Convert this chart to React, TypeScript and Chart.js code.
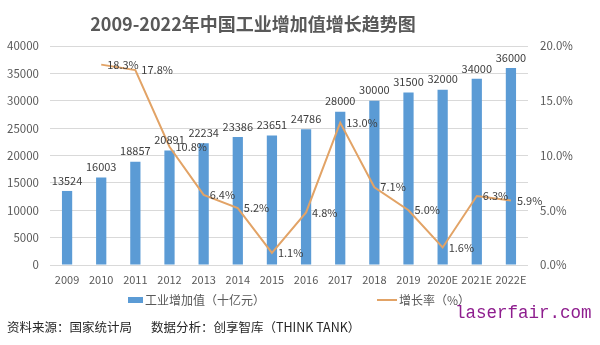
import React, { useEffect, useRef } from "react";
import { Chart, registerables } from "chart.js";

Chart.register(...registerables);

const titleText = "2009-2022年中国工业增加值增长趋势图";
const categories = ["2009", "2010", "2011", "2012", "2013", "2014", "2015", "2016", "2017", "2018", "2019", "2020E", "2021E", "2022E"];
const industryValues = [13524, 16003, 18857, 20891, 22234, 23386, 23651, 24786, 28000, 30000, 31500, 32000, 34000, 36000];
const growthRates: (number | null)[] = [null, 18.3, 17.8, 10.8, 6.4, 5.2, 1.1, 4.8, 13.0, 7.1, 5.0, 1.6, 6.3, 5.9];
const barLabel = "工业增加值（十亿元）";
const lineLabel = "增长率（%）";
const sourceText = "资料来源：国家统计局";
const analysisText = "数据分析：创享智库（THINK TANK）";
const watermark = "laserfair.com";

const BAR_COLOR = "#5B9BD5";
const LINE_COLOR = "#E2A366";
const TEXT_COLOR = "#404040";
const TICK_COLOR = "#595959";
const FONT = '"Noto Sans CJK SC", "Noto Sans", sans-serif';

const labelPlugin = {
  id: "valueLabels",
  afterDatasetsDraw(chart: any) {
    const ctx = chart.ctx;
    ctx.save();
    ctx.font = `11px ${FONT}`;
    ctx.fillStyle = TEXT_COLOR;
    const barMeta = chart.getDatasetMeta(0);
    ctx.textAlign = "center";
    ctx.textBaseline = "bottom";
    barMeta.data.forEach((el: any, i: number) => {
      ctx.fillText(String(industryValues[i]), el.x, el.y - 5);
    });
    const lineMeta = chart.getDatasetMeta(1);
    ctx.textAlign = "left";
    ctx.textBaseline = "middle";
    lineMeta.data.forEach((el: any, i: number) => {
      const v = growthRates[i];
      if (v == null) return;
      ctx.fillText(v.toFixed(1) + "%", el.x + 6, el.y);
    });
    ctx.restore();
  },
};

export default function App() {
  const ref = useRef<HTMLCanvasElement | null>(null);

  useEffect(() => {
    if (!ref.current) return;
    const chart = new Chart(ref.current, {
      type: "bar",
      data: {
        labels: categories,
        datasets: [
          {
            type: "bar",
            label: barLabel,
            data: industryValues,
            backgroundColor: BAR_COLOR,
            yAxisID: "y",
            categoryPercentage: 1,
            barPercentage: 0.3,
            order: 1,
          } as any,
          {
            type: "line",
            label: lineLabel,
            data: growthRates,
            borderColor: LINE_COLOR,
            borderWidth: 2,
            pointRadius: 0,
            tension: 0,
            yAxisID: "y1",
            order: 0,
          } as any,
        ],
      },
      options: {
        responsive: false,
        animation: false,
        layout: { padding: { top: 46, bottom: 52, left: 0, right: 0 } },
        plugins: {
          legend: { display: false },
          title: { display: false },
          tooltip: { enabled: false },
        },
        scales: {
          x: {
            grid: { display: false, drawTicks: false },
            border: { display: false },
            ticks: { color: TICK_COLOR, font: { family: FONT, size: 11 }, padding: 8, maxRotation: 0, autoSkip: false },
            afterFit: (s: any) => { s.height = 28; },
          },
          y: {
            position: "left",
            min: 0,
            max: 40000,
            grid: { color: "#D9D9D9", drawTicks: false },
            border: { display: false },
            ticks: {
              stepSize: 5000,
              color: TICK_COLOR,
              font: { family: FONT, size: 11.5 },
              padding: 11,
              callback: (v: any) => String(v),
            },
            afterFit: (s: any) => { s.width = 50; },
          },
          y1: {
            position: "right",
            min: 0,
            max: 20,
            grid: { display: false, drawTicks: false },
            border: { display: false },
            ticks: {
              stepSize: 5,
              color: TICK_COLOR,
              font: { family: FONT, size: 11.5 },
              padding: 12,
              callback: (v: any) => Number(v).toFixed(1) + "%",
            },
            afterFit: (s: any) => { s.width = 72; },
          },
        },
      } as any,
      plugins: [labelPlugin],
    });
    return () => chart.destroy();
  }, []);

  const abs = (extra: React.CSSProperties): React.CSSProperties => ({
    position: "absolute",
    whiteSpace: "nowrap",
    fontFamily: FONT,
    ...extra,
  });

  return (
    <div style={{ position: "absolute", left: 0, top: 0, width: 600, height: 345, background: "#fff", overflow: "hidden" }}>
      <canvas ref={ref} width={600} height={345} style={{ position: "absolute", left: 0, top: 0, width: 600, height: 345 }} />
      <div style={abs({ left: 0, top: 14, width: 506, textAlign: "center", fontSize: 18, lineHeight: "18px", fontWeight: "bold", color: "#595959" })}>{titleText}</div>
      <div style={abs({ left: 128, top: 297, width: 15, height: 6, background: BAR_COLOR })} />
      <div style={abs({ left: 145, top: 292, fontSize: 12, lineHeight: "16px", color: TICK_COLOR })}>{barLabel}</div>
      <div style={abs({ left: 377, top: 299, width: 20, height: 2, background: LINE_COLOR })} />
      <div style={abs({ left: 399, top: 292, fontSize: 12, lineHeight: "16px", color: TICK_COLOR })}>{lineLabel}</div>
      <div style={abs({ left: 7, top: 319, fontSize: 12.5, lineHeight: "16px", color: "#262626" })}>{sourceText}</div>
      <div style={abs({ left: 151, top: 319, fontSize: 12.5, lineHeight: "16px", color: "#262626" })}>{analysisText}</div>
      <div style={abs({ left: 455, top: 302, fontSize: 17.5, lineHeight: "22px", color: "#8E1D8E", fontFamily: '"Liberation Mono", "DejaVu Sans Mono", monospace' })}>{watermark}</div>
    </div>
  );
}
